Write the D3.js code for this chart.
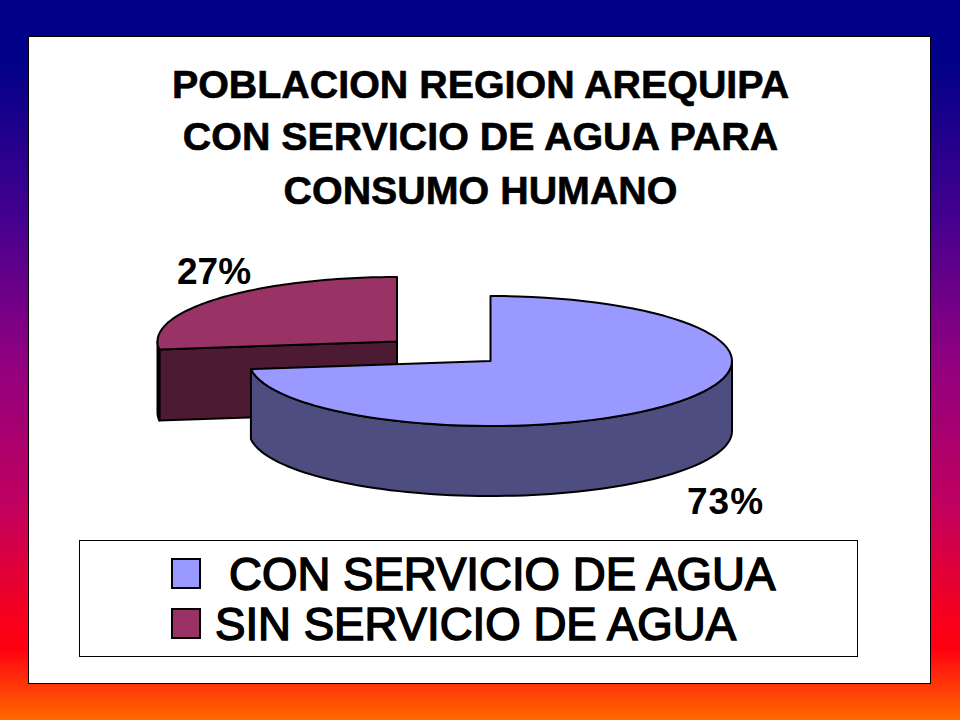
<!DOCTYPE html>
<html><head><meta charset="utf-8">
<script src="https://cdn.jsdelivr.net/npm/d3@7"></script>
<style>html,body{margin:0;padding:0;background:#fff}svg{display:block}text{font-family:"Liberation Sans",Arial,sans-serif;fill:#000}</style>
</head><body>
<svg id="c" width="960" height="720"></svg>
<script>
const categories = ["CON SERVICIO DE AGUA", "SIN SERVICIO DE AGUA"];
const values = [73, 27];
const valueLabels = ["73%", "27%"];
const titleLines = ["POBLACION REGION AREQUIPA", "CON SERVICIO DE AGUA PARA", "CONSUMO HUMANO"];
const topColors = ["#9999ff", "#993366"];
const sideColors = ["#4d4d80", "#4d1a33"];

const svg = d3.select("#c");
const defs = svg.append("defs");
const grad = defs.append("linearGradient").attr("id","bg").attr("x1",0).attr("x2",0).attr("y1",0).attr("y2",1);
[[0,"#000088"],[0.08,"#000088"],[0.3,"#440090"],[0.5,"#900080"],[0.7,"#c00060"],[0.85,"#f40020"],[0.9,"#ff0010"],[1,"#ff6a00"]]
  .forEach(s=>grad.append("stop").attr("offset",s[0]).attr("stop-color",s[1]));
svg.append("rect").attr("width",960).attr("height",720).attr("fill","url(#bg)");
svg.append("rect").attr("x",28.5).attr("y",36.5).attr("width",902).attr("height",647).attr("fill","#fff").attr("stroke","#000").attr("stroke-width",1);

svg.selectAll("text.title").data(titleLines).join("text").attr("class","title")
  .attr("x",480.5).attr("y",(d,i)=>[98,150,204][i]).attr("text-anchor","middle")
  .attr("font-size",39.4).attr("font-weight","bold").attr("stroke","#000").attr("stroke-width",0.6).text(d=>d);

const pie = d3.pie().sort(null).startAngle(0).endAngle(2*Math.PI)(values);
const geom = [
  {cx:490.5, cy:361, rx:241.5, ry:65, depth:70},
  {cx:397, cy:341.5, rx:239.5, ry:64.5, depth:71}
];
const line = d3.line();
const pt = (g,a,dy=0)=>[g.cx+g.rx*Math.sin(a), g.cy-g.ry*Math.cos(a)+dy];
const arcPts = (g,a0,a1,dy=0)=>{
  const n=80; return d3.range(n+1).map(i=>pt(g,a0+(a1-a0)*i/n,dy));
};
function draw(i){
  const g = geom[i], p = pie[i], a0=p.startAngle, a1=p.endAngle;
  const G = svg.append("g").attr("stroke","#000").attr("stroke-width",2).attr("stroke-linejoin","round");
  if(i===1){
    const e=pt(g,a0), e2=pt(g,a0,g.depth);
    G.append("path").attr("fill",sideColors[i]).attr("d",line([[g.cx,g.cy],e,e2,[g.cx,g.cy+g.depth]])+"Z");
  }
  const w0=Math.max(a0,Math.PI/2), w1=Math.min(a1,3*Math.PI/2);
  if(w1>w0){
    const pts=arcPts(g,w0,w1).concat(arcPts(g,w1,w0,g.depth));
    G.append("path").attr("fill",sideColors[i]).attr("d",line(pts)+"Z");
  }
  const top=[[g.cx,g.cy]].concat(arcPts(g,a0,a1));
  G.append("path").attr("fill",topColors[i]).attr("d",line(top)+"Z");
}
draw(1); draw(0);

svg.selectAll("text.val").data(valueLabels).join("text").attr("class","val")
  .attr("x",(d,i)=>[687,177][i]).attr("y",(d,i)=>[514,284][i])
  .attr("letter-spacing",(d,i)=>[1,0][i])
  .attr("font-size",37).attr("font-weight","bold").text(d=>d);

svg.append("rect").attr("x",79.5).attr("y",540.5).attr("width",778).attr("height",116).attr("fill","#fff").attr("stroke","#000").attr("stroke-width",1);
svg.selectAll("rect.sw").data(categories).join("rect").attr("class","sw")
  .attr("x",172).attr("y",(d,i)=>[559,609][i]).attr("width",28).attr("height",29)
  .attr("fill",(d,i)=>topColors[i]).attr("stroke","#000").attr("stroke-width",2);
svg.selectAll("text.leg").data(categories).join("text").attr("class","leg")
  .attr("x",(d,i)=>[229,215][i]).attr("y",(d,i)=>[590,640][i])
  .attr("font-size",45.6).attr("stroke","#000").attr("stroke-width",1.5).text(d=>d);
</script>
</body></html>
